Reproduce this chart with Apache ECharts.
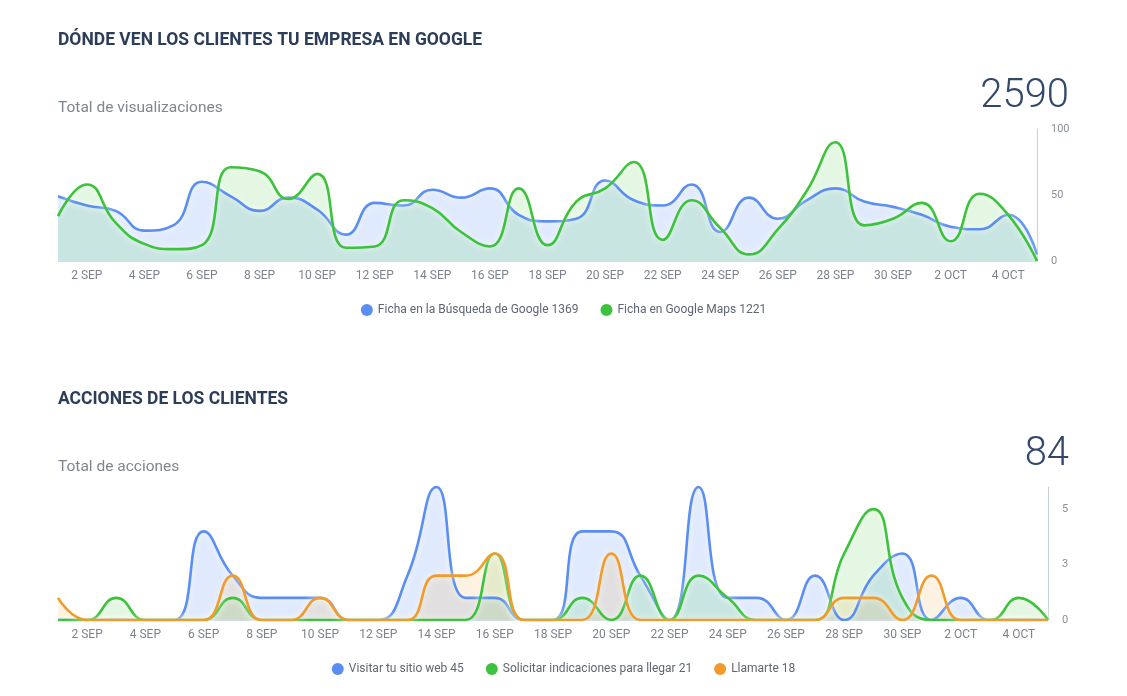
<!DOCTYPE html>
<html>
<head>
<meta charset="utf-8">
<script src="https://cdn.jsdelivr.net/npm/echarts@6/dist/echarts.min.js"></script>
<style>
html,body{margin:0;padding:0;background:#fff;}
#chart{width:1127px;height:696px;}
</style>
</head>
<body>
<div id="chart"></div>
<script>
const days = ['1 SEP','2 SEP','3 SEP','4 SEP','5 SEP','6 SEP','7 SEP','8 SEP','9 SEP','10 SEP',
  '11 SEP','12 SEP','13 SEP','14 SEP','15 SEP','16 SEP','17 SEP','18 SEP','19 SEP','20 SEP',
  '21 SEP','22 SEP','23 SEP','24 SEP','25 SEP','26 SEP','27 SEP','28 SEP','29 SEP','30 SEP',
  '1 OCT','2 OCT','3 OCT','4 OCT','5 OCT'];

const searchViews = [49,42,38,23,27,60,49,38,48,39,20,44,42,54,48,55,35,30,32,61,46,42,58,22,48,32,46,55,45,41,35,26,24,35,5];
const mapsViews   = [34,58,29,13,9,12,71,68,47,66,10,11,46,40,22,11,55,12,45,55,75,16,46,25,5,24,53,90,27,32,44,15,51,35,0];

const visitWeb    = [0,0,0,0,0,4,2,1,1,1,0,0,2,6,1,1,0,0,4,4,2,0,6,1,1,0,2,0,2,3,0,1,0,0,0];
const directions  = [0,0,1,0,0,0,1,0,0,0,0,0,0,0,0,3,0,0,1,0,2,0,2,1,0,0,0,3,5,1,0,0,0,1,0];
const calls       = [1,0,0,0,0,0,2,0,0,1,0,0,0,2,2,3,0,0,0,3,0,0,0,0,0,0,0,1,1,0,2,0,0,0,0];

const topNames = ['Ficha en la Búsqueda de Google 1369','Ficha en Google Maps 1221'];
const bottomNames = ['Visitar tu sitio web 45','Solicitar indicaciones para llegar 21','Llamarte 18'];
const topTicks = [0, 50, 100];
const bottomTicks = [0, 2.5, 5];

const FONT = 'Roboto';
const BLUE = '#5a8ef5', GREEN = '#3cc23c', ORANGE = '#f29b2b';

function mkSeries(name, data, color, fill, xi, yi) {
  return {
    name: name, type: 'line', data: data, xAxisIndex: xi, yAxisIndex: yi,
    smooth: 0.5, symbol: 'none',
    lineStyle: {width: 2.6, color: color, shadowColor: 'rgba(255,255,245,0.9)', shadowBlur: 7},
    itemStyle: {color: color},
    areaStyle: {color: fill},
    emphasis: {disabled: true}
  };
}

function xAxisCfg(gi) {
  return {
    type: 'category', gridIndex: gi, data: days, boundaryGap: false,
    axisLine: {show: true, lineStyle: {color: '#d3dbe7', width: 1}},
    axisTick: {show: false},
    axisLabel: {interval: function(i){ return i % 2 === 1; }, color: '#7d838e', fontSize: 12, fontFamily: FONT, margin: 9},
    splitLine: {show: false}
  };
}

function yAxisCfg(gi, max, interval, ticks) {
  return {
    type: 'value', gridIndex: gi, position: 'right', min: 0, max: max, interval: interval,
    axisLine: {show: true, lineStyle: {color: '#c9d0da', width: 1}},
    axisTick: {show: false},
    splitLine: {show: false},
    axisLabel: {
      color: '#8a8f98', fontSize: 11, fontFamily: FONT, margin: 14,
      formatter: function(v){ return ticks.indexOf(v) >= 0 ? String(Math.round(v)) : ''; }
    }
  };
}

const chart = echarts.init(document.getElementById('chart'), null, {renderer: 'canvas'});
chart.setOption({
  animation: false,
  backgroundColor: '#ffffff',
  textStyle: {fontFamily: FONT},
  title: [
    {text: 'DÓNDE VEN LOS CLIENTES TU EMPRESA EN GOOGLE', left: 58, top: 32, padding: 0,
     textStyle: {fontFamily: FONT, fontSize: 17.5, fontWeight: 'bold', color: '#2c3d58'}},
    {text: 'Total de visualizaciones', left: 58, top: 100, padding: 0,
     textStyle: {fontFamily: FONT, fontSize: 15.5, fontWeight: 'normal', color: '#80868f'}},
    {text: '2590', right: 58, top: 77, padding: 0,
     textStyle: {fontFamily: FONT, fontSize: 40, fontWeight: 300, color: '#33476a'}},
    {text: 'ACCIONES DE LOS CLIENTES', left: 58, top: 391, padding: 0,
     textStyle: {fontFamily: FONT, fontSize: 17.5, fontWeight: 'bold', color: '#2c3d58'}},
    {text: 'Total de acciones', left: 58, top: 459, padding: 0,
     textStyle: {fontFamily: FONT, fontSize: 15.5, fontWeight: 'normal', color: '#80868f'}},
    {text: '84', right: 58, top: 435, padding: 0,
     textStyle: {fontFamily: FONT, fontSize: 40, fontWeight: 300, color: '#33476a'}}
  ],
  legend: [
    {data: topNames, left: 'center', top: 299, icon: 'circle', itemWidth: 12, itemHeight: 12, itemGap: 22,
     textStyle: {color: '#5f6672', fontSize: 12, fontFamily: FONT}, selectedMode: false},
    {data: bottomNames, left: 'center', top: 658, icon: 'circle', itemWidth: 12, itemHeight: 12, itemGap: 22,
     textStyle: {color: '#5f6672', fontSize: 12, fontFamily: FONT}, selectedMode: false}
  ],
  grid: [
    {left: 58, right: 90, top: 129, height: 132, containLabel: false},
    {left: 58, right: 79, top: 487, height: 133, containLabel: false}
  ],
  xAxis: [xAxisCfg(0), xAxisCfg(1)],
  yAxis: [yAxisCfg(0, 100, 50, topTicks), yAxisCfg(1, 6, 2.5, bottomTicks)],
  series: [
    mkSeries(topNames[0], searchViews, BLUE, 'rgba(91,143,249,0.27)', 0, 0),
    mkSeries(topNames[1], mapsViews, GREEN, 'rgba(60,196,60,0.2)', 0, 0),
    mkSeries(bottomNames[0], visitWeb, BLUE, 'rgba(91,143,249,0.27)', 1, 1),
    mkSeries(bottomNames[1], directions, GREEN, 'rgba(60,196,60,0.2)', 1, 1),
    mkSeries(bottomNames[2], calls, ORANGE, 'rgba(242,155,44,0.2)', 1, 1)
  ]
});
</script>
</body>
</html>
